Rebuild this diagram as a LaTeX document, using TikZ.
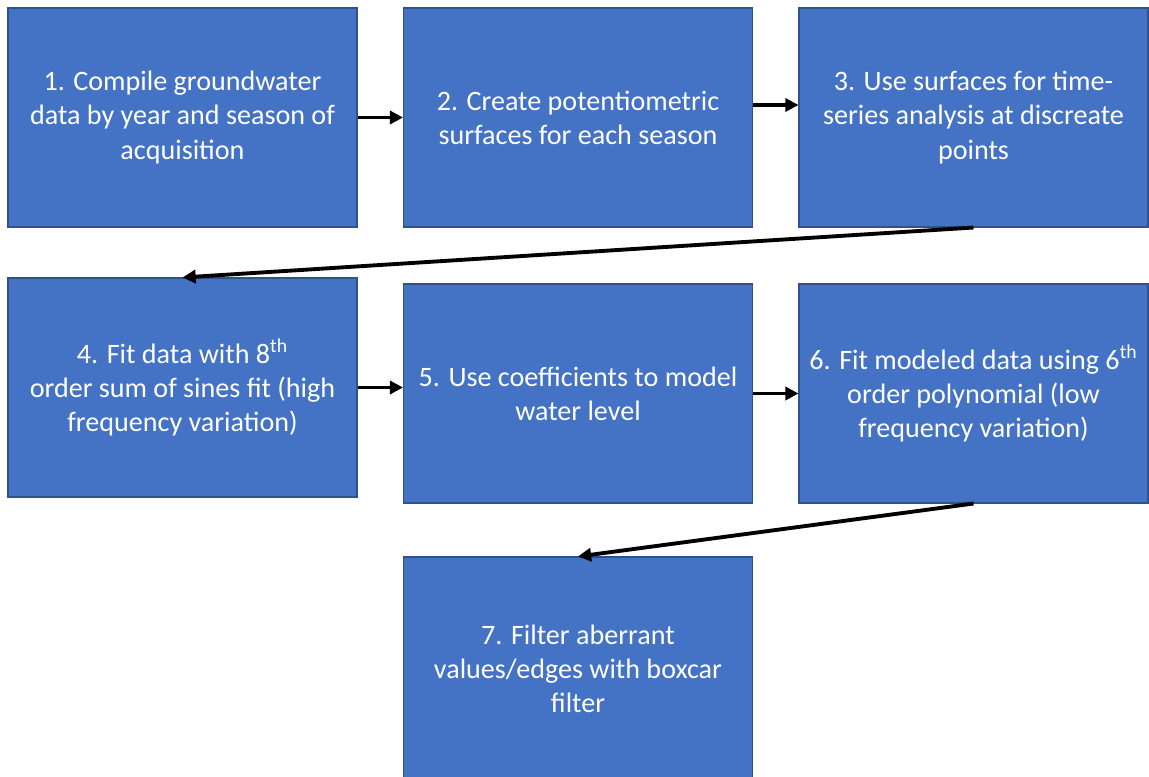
\documentclass[tikz,border=0pt]{standalone}
\usepackage{fontspec}
\setmainfont{Carlito}
\usetikzlibrary{arrows.meta,calc}
\definecolor{boxblue}{HTML}{4472C4}
\definecolor{boxedge}{HTML}{2F528F}
\tikzset{
	stepbox/.style={draw=boxedge,line width=0.6pt,fill=boxblue,text=white,
		minimum width=6.98cm,minimum height=4.38cm,inner sep=0pt,align=center,
		font=\fontsize{16}{19.4}\selectfont},
	flow/.style={-{Triangle[length=7.5pt,width=7.5pt]},line width=2.2pt}
}

\begin{document}
\begin{tikzpicture}
		\useasboundingbox (0,0) rectangle (22.98,15.52);
		% top row
		\node (s1) at (3.65,13.17) [stepbox] {1. Compile groundwater\\data by year and season of\\acquisition};
		\node (s2) at (11.56,13.17) [stepbox] {2. Create potentiometric\\surfaces for each season};
		\node (s3) at (19.47,13.17) [stepbox] {3. Use surfaces for time-\\series analysis at discreate\\points};
		% middle row
		\node (s4) at (3.65,7.77) [stepbox] {4. Fit data with 8\textsuperscript{th}\\order sum of sines fit (high\\frequency variation)};
		\node (s5) at (11.56,7.65) [stepbox] {5. Use coefficients to model\\water level};
		\node (s6) at (19.47,7.65) [stepbox] {6. Fit modeled data using 6\textsuperscript{th}\\order polynomial (low\\frequency variation)};
		% bottom
		\node (s7) at (11.56,2.15) [stepbox,minimum height=4.46cm] {7. Filter aberrant\\values/edges with boxcar\\filter};
		% arrows
		\draw[flow] (s1.east) -- (s2.west);
		\draw[flow] ($(s2.east)+(0,0.25)$) -- ($(s3.west)+(0,0.25)$);
		\draw[flow] (s3.south) -- (s4.north);
		\draw[flow] (s4.east) -- (s4.east -| s5.west);
		\draw[flow] (s5.east) -- (s6.west);
		\draw[flow] (s6.south) -- (s7.north);
	\end{tikzpicture}
\end{document}
